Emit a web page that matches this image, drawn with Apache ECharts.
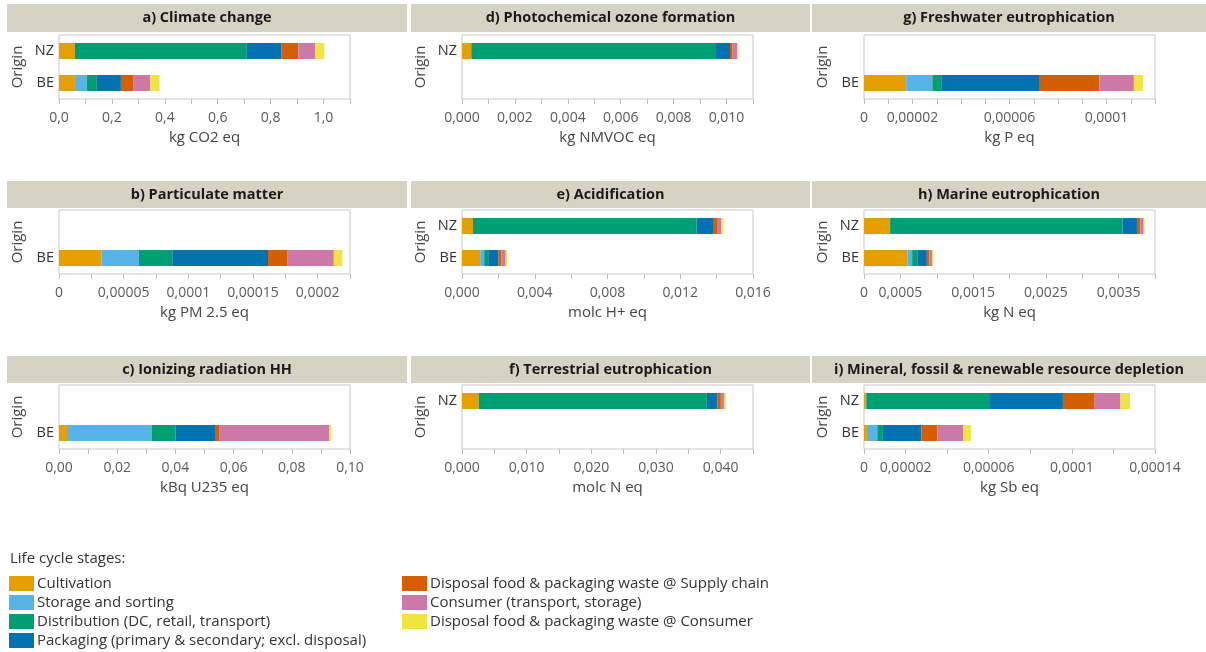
<!DOCTYPE html>
<html><head><meta charset="utf-8">
<script src="https://cdn.jsdelivr.net/npm/echarts@6/dist/echarts.min.js"></script>
<style>html,body{margin:0;padding:0;background:#fff}#c{width:1206px;height:652px}</style>
</head><body><div id="c"></div>
<script>
// ---------- DATA ----------
const stages = ['Cultivation','Storage and sorting','Distribution (DC, retail, transport)','Packaging (primary & secondary; excl. disposal)','Disposal food & packaging waste @ Supply chain','Consumer (transport, storage)','Disposal food & packaging waste @ Consumer'];
const origins = ['BE','NZ'];
const panelTitles = ['a) Climate change','b) Particulate matter','c) Ionizing radiation HH','d) Photochemical ozone formation','e) Acidification','f) Terrestrial eutrophication','g) Freshwater eutrophication','h) Marine eutrophication','i) Mineral, fossil & renewable resource depletion'];
const unitNames = ['kg CO2 eq','kg PM 2.5 eq','kBq U235 eq','kg NMVOC eq','molc H+ eq','molc N eq','kg P eq','kg N eq','kg Sb eq'];
// values per stage (order of `stages`), null = origin not shown
const climateBE = [0.06, 0.045, 0.038, 0.091, 0.046, 0.065, 0.035];
const climateNZ = [0.06, 0, 0.65, 0.13, 0.065, 0.063, 0.035];
const particulateBE = [0.0000328, 0.000029, 0.0000258, 0.000074, 0.0000152, 0.0000357, 0.0000065];
const particulateNZ = null;
const ionizingBE = [0.0031, 0.0287, 0.0083, 0.0135, 0.0014, 0.0379, 0.0006];
const ionizingNZ = null;
const ozoneBE = null;
const ozoneNZ = [0.00035, 0, 0.00925, 0.00053, 0.0001, 0.00017, 0.00005];
const acidBE = [0.001, 0.00022, 0.00022, 0.00057, 0.00015, 0.00024, 0.00007];
const acidNZ = [0.0006, 0, 0.0123, 0.0009, 0.00022, 0.00024, 0.00011];
const terrestrialBE = null;
const terrestrialNZ = [0.00258, 0, 0.03528, 0.0016, 0.00057, 0.00051, 0.00026];
const freshwaterBE = [0.0000174, 0.0000108, 0.0000039, 0.0000404, 0.0000246, 0.0000142, 0.0000037];
const freshwaterNZ = null;
const marineBE = [0.000598, 0.000064, 0.000078, 0.000124, 0.000033, 0.000041, 0.000014];
const marineNZ = [0.000359, 0, 0.003195, 0.000198, 0.000046, 0.000046, 0.000013];
const mineralBE = [0.0000014, 0.000005, 0.0000027, 0.0000185, 0.0000077, 0.0000125, 0.0000036];
const mineralNZ = [0.0000006, 0.0000005, 0.0000591, 0.0000355, 0.0000153, 0.0000124, 0.0000046];
// axis ranges and tick labels
const axisMax = [1.1, 0.000225, 0.10, 0.011, 0.016, 0.045, 0.00012, 0.004, 0.00014];
const axisStep = [0.1, 0.000025, 0.01, 0.001, 0.002, 0.005, 0.00001, 0.0005, 0.00002];
const tickValsA = [0, 0.2, 0.4, 0.6, 0.8, 1.0];
const tickTxtA = ['0,0','0,2','0,4','0,6','0,8','1,0'];
const tickValsB = [0, 0.00005, 0.0001, 0.00015, 0.0002];
const tickTxtB = ['0','0,00005','0,0001','0,00015','0,0002'];
const tickValsC = [0, 0.02, 0.04, 0.06, 0.08, 0.10];
const tickTxtC = ['0,00','0,02','0,04','0,06','0,08','0,10'];
const tickValsD = [0, 0.002, 0.004, 0.006, 0.008, 0.010];
const tickTxtD = ['0,000','0,002','0,004','0,006','0,008','0,010'];
const tickValsE = [0, 0.004, 0.008, 0.012, 0.016];
const tickTxtE = ['0,000','0,004','0,008','0,012','0,016'];
const tickValsF = [0, 0.010, 0.020, 0.030, 0.040];
const tickTxtF = ['0,000','0,010','0,020','0,030','0,040'];
const tickValsG = [0, 0.00002, 0.00006, 0.0001];
const tickTxtG = ['0','0,00002','0,00006','0,0001'];
const tickValsH = [0, 0.0005, 0.0015, 0.0025, 0.0035];
const tickTxtH = ['0','0,0005','0,0015','0,0025','0,0035'];
const tickValsI = [0, 0.00002, 0.00006, 0.0001, 0.00014];
const tickTxtI = ['0','0,00002','0,00006','0,0001','0,00014'];

// ---------- BUILD ----------
const panelBE = [climateBE, particulateBE, ionizingBE, ozoneBE, acidBE, terrestrialBE, freshwaterBE, marineBE, mineralBE];
const panelNZ = [climateNZ, particulateNZ, ionizingNZ, ozoneNZ, acidNZ, terrestrialNZ, freshwaterNZ, marineNZ, mineralNZ];
const tickVals = [tickValsA, tickValsB, tickValsC, tickValsD, tickValsE, tickValsF, tickValsG, tickValsH, tickValsI];
const tickTxt = [tickTxtA, tickTxtB, tickTxtC, tickTxtD, tickTxtE, tickTxtF, tickTxtG, tickTxtH, tickTxtI];
const colors = ['#E69F00','#56B4E9','#009E73','#0072B2','#D55E00','#CC79A7','#F0E442'];
const FONT = 'Open Sans';

const colX = [59, 462, 864];
const colW = [291, 291, 291];
const rowY = [35, 210, 385];
const headerCols = [[7, 400], [411, 399], [812, 394]];
const headerRows = [[4, 28], [181, 27], [356, 27]];

const grids = [], xAxes = [], yAxes = [], series = [], graphics = [];
for (let p = 0; p < 9; p++) {
  const col = Math.floor(p / 3), row = p % 3;
  grids.push({left: colX[col], top: rowY[row], width: colW[col], height: 64, show: true, borderColor: '#c9c9c9', borderWidth: 1, backgroundColor: '#fff', containLabel: false});
  const vals = tickVals[p], txt = tickTxt[p], step = axisStep[p];
  xAxes.push({
    type: 'value', gridIndex: p, min: 0, max: axisMax[p], interval: step,
    splitLine: {show: false},
    axisLine: {show: false},
    axisTick: {show: true, length: 5, lineStyle: {color: '#bdbdbd'}},
    axisLabel: {margin: 12, color: '#5a5a5a', fontFamily: FONT, fontSize: 14, showMinLabel: true, showMaxLabel: true,
      formatter: function (v) { for (let k = 0; k < vals.length; k++) { if (Math.abs(v - vals[k]) < step * 0.01) return txt[k]; } return ''; }},
    name: unitNames[p], nameLocation: 'middle', nameGap: 31,
    nameTextStyle: {color: '#444', fontFamily: FONT, fontSize: 15}
  });
  const cats = [panelBE[p] ? origins[0] : '', panelNZ[p] ? origins[1] : ''];
  yAxes.push({
    type: 'category', gridIndex: p, data: cats, inverse: false,
    axisLine: {show: false}, axisTick: {show: false},
    axisLabel: {color: '#333', fontFamily: FONT, fontSize: 14.5, margin: 5},
    name: 'Origin', nameLocation: 'middle', nameGap: 34, nameRotate: 90,
    nameTextStyle: {color: '#444', fontFamily: FONT, fontSize: 15}
  });
  for (let s = 0; s < stages.length; s++) {
    series.push({
      type: 'bar', name: stages[s], xAxisIndex: p, yAxisIndex: p, stack: 'st' + p,
      barWidth: '50%', itemStyle: {color: colors[s]}, silent: true,
      data: [panelBE[p] ? panelBE[p][s] : null, panelNZ[p] ? panelNZ[p][s] : null]
    });
  }
  graphics.push({type: 'rect', left: headerCols[col][0], top: headerRows[row][0], shape: {width: headerCols[col][1], height: headerRows[row][1]}, style: {fill: '#d6d3c4'}, z: 0});
  graphics.push({type: 'text', x: headerCols[col][0] + headerCols[col][1] / 2, y: headerRows[row][0] + headerRows[row][1] / 2,
    style: {text: panelTitles[p], fill: '#1a1a1a', font: 'bold 14.5px "' + FONT + '"', textAlign: 'center', textVerticalAlign: 'middle'}, z: 1});
}
graphics.push({type: 'text', left: 10, top: 551, style: {text: 'Life cycle stages:', fill: '#333', font: '15px "' + FONT + '"'}});

const legendCommon = {orient: 'vertical', itemWidth: 25, itemHeight: 15, itemGap: 4, icon: 'rect', selectedMode: false,
  padding: 0, height: 90,
  textStyle: {color: '#333', fontFamily: FONT, fontSize: 15, padding: [0, 0, 0, -2]}};
const option = {
  animation: false,
  grid: grids, xAxis: xAxes, yAxis: yAxes, series: series, graphic: graphics,
  legend: [
    Object.assign({left: 9, top: 576, data: stages.slice(0, 4)}, legendCommon),
    Object.assign({left: 402, top: 576, data: stages.slice(4)}, legendCommon)
  ]
};
const chart = echarts.init(document.getElementById('c'), null, {renderer: 'canvas'});
chart.setOption(option);
</script></body></html>
